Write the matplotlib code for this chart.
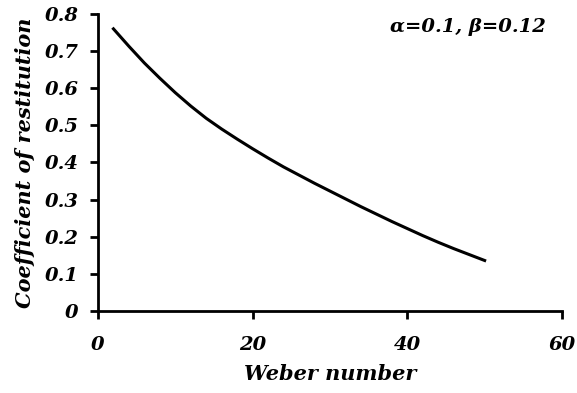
import matplotlib
matplotlib.use("Agg")
import matplotlib.pyplot as plt

weber = [2, 4, 6, 8, 10, 12, 14, 16, 18, 20, 22, 24, 26, 28, 30, 32, 34, 36, 38, 40, 42, 44, 46, 48, 50]
restitution = [0.760, 0.713, 0.668, 0.627, 0.588, 0.552, 0.519, 0.490, 0.463, 0.437, 0.412, 0.388,
               0.366, 0.344, 0.323, 0.302, 0.281, 0.261, 0.241, 0.222, 0.203, 0.185, 0.168, 0.152, 0.136]
x_ticks = [0, 20, 40, 60]
y_ticks = [0, 0.1, 0.2, 0.3, 0.4, 0.5, 0.6, 0.7, 0.8]
y_tick_labels = ["0", "0.1", "0.2", "0.3", "0.4", "0.5", "0.6", "0.7", "0.8"]

plt.rcParams['font.family'] = ['DejaVu Serif']
font = dict(weight='bold', style='italic')

fig = plt.figure(figsize=(5.77, 3.93), dpi=100)
ax = fig.add_axes([0.1698, 0.2087, 0.974 - 0.1698, 0.9644 - 0.2087])
ax.plot(weber, restitution, color='black', lw=2.2, solid_joinstyle='round')
ax.set_xlim(0, 60)
ax.set_ylim(0, 0.8)
ax.set_xticks(x_ticks)
ax.set_xticklabels([str(t) for t in x_ticks], fontsize=14, **font)
ax.set_yticks(y_ticks)
ax.set_yticklabels(y_tick_labels, fontsize=14, **font)
for s in ['top', 'right']:
    ax.spines[s].set_visible(False)
for s in ['left', 'bottom']:
    ax.spines[s].set_linewidth(2)
ax.tick_params(direction='out', length=6, width=2)
ax.tick_params(axis='x', pad=12)
ax.tick_params(axis='y', pad=8)
ax.set_xlabel("Weber number", fontsize=15, labelpad=7, **font)
ax.set_ylabel("Coefficient of restitution", fontsize=15, labelpad=7, **font)
ax.text(0.965, 0.955, "α=0.1, β=0.12", transform=ax.transAxes, ha='right', va='center', fontsize=14, **font)
fig.savefig("out.png", dpi=100)
